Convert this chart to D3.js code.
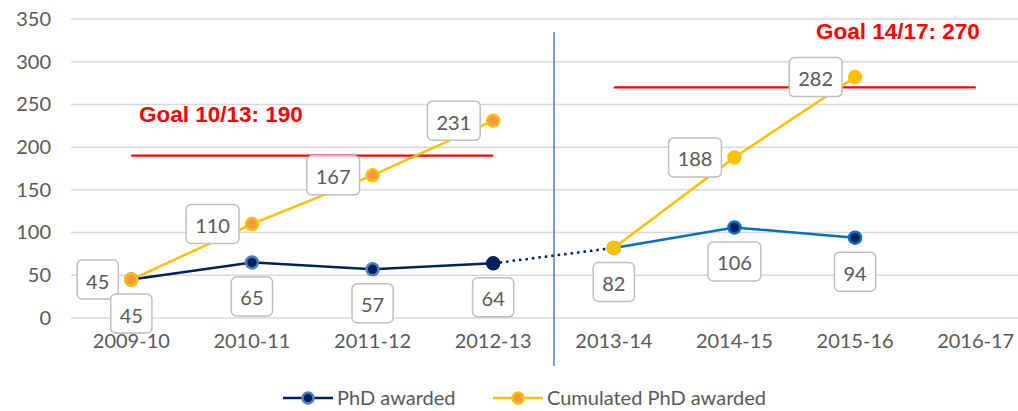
<!DOCTYPE html>
<html><head><meta charset="utf-8">
<script src="https://cdn.jsdelivr.net/npm/d3@7"></script>
<style>body{margin:0;background:#fff}svg{display:block}</style>
</head><body>
<svg id="c" width="1018" height="411"></svg>
<script>
const categories = ["2009-10","2010-11","2011-12","2012-13","2013-14","2014-15","2015-16","2016-17"];
const phdValues = [45,65,57,64,82,106,94,null];
const cumulatedValues = [45,110,167,231,82,188,282,null];
const yTicks = [0,50,100,150,200,250,300,350];
const goals = [
  {label:"Goal 10/13: 190", value:190, from:"2009-10", to:"2012-13"},
  {label:"Goal 14/17: 270", value:270, from:"2013-14", to:"2016-17"}
];
const legendLabels = ["PhD awarded","Cumulated PhD awarded"];

const svg = d3.select("#c");
const x = d3.scaleBand().domain(categories).range([71,1036]);
const cx = c => x(c) + x.bandwidth()/2;
const y = d3.scaleLinear().domain([0,350]).range([318,19]);
const FONT = "Lato, 'Open Sans', sans-serif";
const FS = 20;

// grid
svg.append("g").selectAll("line").data(yTicks).join("line")
  .attr("x1",71).attr("x2",1036).attr("y1",d=>y(d)).attr("y2",d=>y(d))
  .attr("stroke","#d9d9d9").attr("stroke-width",1.5);

// y axis labels
const yAxis = d3.axisLeft(y).tickValues(yTicks).tickSize(0).tickPadding(0);
const ga = svg.append("g").attr("transform","translate(51,0)").call(yAxis);
ga.select(".domain").remove();
ga.selectAll("text").attr("font-family",FONT).attr("font-size",FS).attr("fill","#595959");

// x axis labels
const xAxis = d3.axisBottom(x).tickSize(0).tickPadding(0);
const gx = svg.append("g").attr("transform","translate(0,333.5)").call(xAxis);
gx.select(".domain").remove();
gx.selectAll("text").attr("font-family",FONT).attr("font-size",FS).attr("fill","#595959").attr("dy","0.71em");

// divider
svg.append("line").attr("x1",554).attr("x2",554).attr("y1",32).attr("y2",366)
  .attr("stroke","#4a7ebb").attr("stroke-width",1.5);

// goals
goals.forEach(g=>{
  svg.append("line").attr("x1",cx(g.from)).attr("x2",cx(g.to)).attr("y1",y(g.value)).attr("y2",y(g.value))
    .attr("stroke","#ff0000").attr("stroke-width",2.2);
});
const GF = "'Liberation Sans', Arial, sans-serif";
svg.append("text").attr("x",139).attr("y",121.5).text(goals[0].label)
  .attr("font-family",GF).attr("font-weight","bold").attr("font-size",22.5).attr("fill","#ff0000");
svg.append("text").attr("x",816).attr("y",39).text(goals[1].label)
  .attr("font-family",GF).attr("font-weight","bold").attr("font-size",22.5).attr("fill","#ff0000");

// lines
const line = d3.line().x(d=>cx(d.c)).y(d=>y(d.v));
const phd = categories.map((c,i)=>({c, v:phdValues[i], i})).filter(d=>d.v!=null);
const cum = categories.map((c,i)=>({c, v:cumulatedValues[i], i})).filter(d=>d.v!=null);

svg.append("path").attr("d",line(cum.slice(0,4))).attr("fill","none").attr("stroke","#ffc000").attr("stroke-width",2.5);
svg.append("path").attr("d",line(cum.slice(4,7))).attr("fill","none").attr("stroke","#ffc000").attr("stroke-width",2.5);

svg.append("path").attr("d",line(phd.slice(0,4))).attr("fill","none").attr("stroke","#002060").attr("stroke-width",2.5);
svg.append("path").attr("d",line(phd.slice(3,5))).attr("fill","none").attr("stroke","#002060").attr("stroke-width",2.5).attr("stroke-dasharray","2.5,4");
svg.append("path").attr("d",line(phd.slice(4,7))).attr("fill","none").attr("stroke","#0070c0").attr("stroke-width",2.5);

const phdStroke = i => i<3 ? "#4f81bd" : (i===3 ? "#002060" : "#0070c0");
svg.append("g").selectAll("circle").data(phd).join("circle")
  .attr("cx",d=>cx(d.c)).attr("cy",d=>y(d.v)).attr("r",6)
  .attr("fill","#002060").attr("stroke",d=>phdStroke(d.i)).attr("stroke-width",2.5);

svg.append("g").selectAll("circle").data(cum).join("circle")
  .attr("cx",d=>cx(d.c)).attr("cy",d=>y(d.v)).attr("r",6)
  .attr("fill",d=>d.i<4?"#f79646":"#ffc000").attr("stroke","#ffc000").attr("stroke-width",2.5);

// data labels
function label(text, cxp, cyp, anchor){
  const g = svg.append("g");
  const t = g.append("text").text(text).attr("font-family",FONT).attr("font-size",FS).attr("fill","#595959")
    .attr("text-anchor","middle").attr("dominant-baseline","central");
  const w = t.node().getComputedTextLength() + 18;
  const h = 39;
  const bx = anchor==="left" ? cxp - 13 - w : cxp - w/2;
  const by = anchor==="left" ? cyp - h/2 : cyp + 34 - h/2;
  g.insert("rect","text").attr("x",bx).attr("y",by).attr("width",w).attr("height",h).attr("rx",5)
    .attr("fill","#fff").attr("stroke","#bfbfbf").attr("stroke-width",1.5);
  t.attr("x",bx+w/2).attr("y",by+h/2+1);
}
cum.forEach(d=>{ if(d.i!==4) label(d.v, cx(d.c), y(d.v), "left"); });
phd.forEach(d=>{ label(d.v, cx(d.c), y(d.v), "below"); });

// legend
const lg = svg.append("g");
const items = [
  {t:legendLabels[0], x0:283, line:"#002060", fill:"#002060", stroke:"#4f81bd"},
  {t:legendLabels[1], x0:493, line:"#ffc000", fill:"#f79646", stroke:"#ffc000"}
];
items.forEach(it=>{
  lg.append("line").attr("x1",it.x0).attr("x2",it.x0+50).attr("y1",398).attr("y2",398).attr("stroke",it.line).attr("stroke-width",2.5);
  lg.append("circle").attr("cx",it.x0+25).attr("cy",398).attr("r",5.5).attr("fill",it.fill).attr("stroke",it.stroke).attr("stroke-width",2.5);
  lg.append("text").attr("x",it.x0+54).attr("y",398).attr("dy","0.35em").text(it.t)
    .attr("font-family",FONT).attr("font-size",FS).attr("fill","#595959");
});
</script>
</body></html>
